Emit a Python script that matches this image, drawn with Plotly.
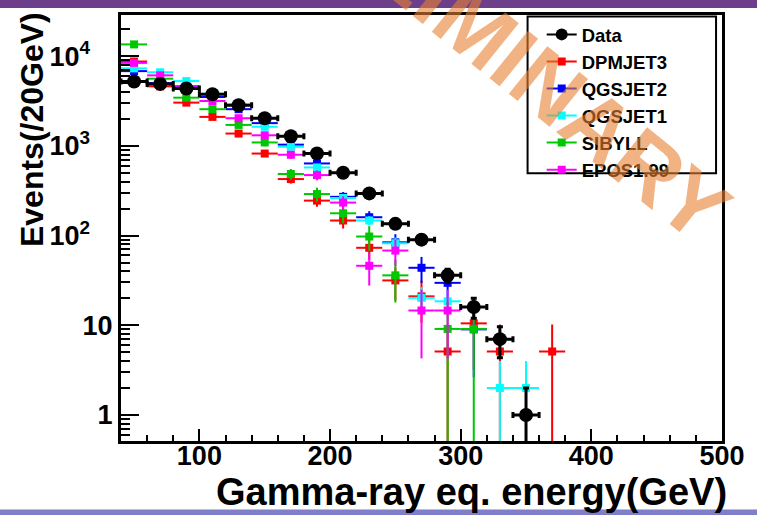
import math
import plotly.graph_objects as go

# Gamma-ray equivalent energy bins (GeV), 20 GeV wide
energy = [50, 70, 90, 110, 130, 150, 170, 190, 210, 230, 250, 270, 290, 310, 330, 350, 370]
bin_half_width = 10

# Events per 20 GeV bin
data_counts = [5200, 4900, 4350, 3750, 2830, 2030, 1280, 820, 500, 295, 135, 90, 36, 16, 7, 1, None]
dpmjet3 = [8700, 4600, 3030, 2100, 1370, 820, 426, 245, 147, 73, 31.6, 21, 5.1, 10.5, 5.1, None, 5.1]
qgsjet2 = [6800, 5000, 4600, 3500, 2560, 1790, 1030, 636, 270, 160, 84, 43.7, 29.7, 9.0, None, None, None]
qgsjet1 = [7300, 6600, 5270, 3800, 2900, 1630, 975, 574, 262, 147, 82, 20.2, 18.5, None, 2.0, 2.0, None]
sibyll = [13500, 5600, 3440, 2560, 1710, 1090, 485, 290, 177, 97.5, 36, None, 9.1, 9.1, None, None, None]
epos199 = [8400, 6100, 4500, 3160, 2030, 1310, 795, 472, 233, 46, 68, 14.6, 14.6, None, None, None, None]

# Per-event weight of each simulated sample (sets its statistical error)
mc_weights = {"DPMJET3": 5.1, "QGSJET2": 4.5, "QGSJET1": 2.0, "SIBYLL": 9.1, "EPOS1.99": 7.3}

# Y tick labels (decades)
y_tick_vals = [1, 10, 100, 1000, 10000]
y_tick_text = ["1", "10", "10<sup>2</sup>&nbsp;&nbsp;&nbsp;", "10<sup>3</sup>&nbsp;&nbsp;&nbsp;",
               "10<sup>4</sup>&nbsp;&nbsp;&nbsp;"]

# Legend order
legend_names = ["Data", "DPMJET3", "QGSJET2", "QGSJET1", "SIBYLL", "EPOS1.99"]
colors = {"Data": "#000000", "DPMJET3": "#ff0000", "QGSJET2": "#0000ff",
          "QGSJET1": "#00ffff", "SIBYLL": "#00c800", "EPOS1.99": "#ff00ff"}

FONT = "Liberation Sans, Arial, Helvetica, sans-serif"

fig = go.Figure()


def mc_errors(values, w):
    return [None if v is None else math.sqrt(w * v) for v in values]


# simulated samples, drawn beneath the data
for name, vals in [("DPMJET3", dpmjet3), ("QGSJET2", qgsjet2), ("QGSJET1", qgsjet1),
                   ("SIBYLL", sibyll), ("EPOS1.99", epos199)]:
    c = colors[name]
    fig.add_trace(go.Scatter(
        x=energy, y=vals, mode="markers", name=name, showlegend=False,
        marker=dict(symbol="square", size=8, color=c, line=dict(width=0)),
        error_x=dict(type="constant", value=bin_half_width, color=c, thickness=2, width=0),
        error_y=dict(type="data", array=mc_errors(vals, mc_weights[name]),
                     color=c, thickness=2, width=0),
    ))

# measured data with Poisson errors
fig.add_trace(go.Scatter(
    x=energy, y=data_counts, mode="markers", name="Data", showlegend=False,
    marker=dict(symbol="circle", size=14, color="black", line=dict(width=0)),
    error_x=dict(type="constant", value=bin_half_width, color="black", thickness=3, width=3),
    error_y=dict(type="data", array=[None if v is None else math.sqrt(v) for v in data_counts],
                 color="black", thickness=3, width=3),
))

# legend entries (line + marker symbols)
for name in legend_names:
    c = colors[name]
    fig.add_trace(go.Scatter(
        x=[None], y=[None], mode="lines+markers", name=name,
        line=dict(color=c, width=2),
        marker=dict(symbol="circle" if name == "Data" else "square",
                    size=12 if name == "Data" else 8, color=c),
    ))

fig.update_layout(
    width=757, height=515,
    margin=dict(l=121, r=27, t=13, b=74),
    paper_bgcolor="white", plot_bgcolor="white",
    font=dict(family=FONT, color="black"),
    showlegend=True,
    legend=dict(x=0.70, y=0.998, xanchor="left", yanchor="top",
                bgcolor="rgba(0,0,0,0)", borderwidth=0,
                font=dict(family=FONT, size=18.5, color="black", weight="bold"),
                itemwidth=30, tracegroupgap=0),
    xaxis=dict(
        range=[40, 500], showgrid=False, zeroline=False,
        showline=True, linewidth=3, linecolor="black", mirror=True,
        ticks="inside", ticklen=12, tickwidth=2, tickcolor="black",
        tick0=0, dtick=100, ticklabelstandoff=-11,
        minor=dict(ticks="inside", ticklen=6, tickwidth=2, tickcolor="black", dtick=20, showgrid=False),
        tickfont=dict(family=FONT, size=27, weight="bold"),
    ),
    yaxis=dict(
        type="log", range=[-0.29, 4.458], showgrid=False, zeroline=False,
        showline=True, linewidth=3, linecolor="black", mirror=True,
        ticks="inside", ticklen=18, tickwidth=2, tickcolor="black",
        tickmode="array", tickvals=y_tick_vals, ticktext=y_tick_text,
        minor=dict(ticks="inside", ticklen=9, tickwidth=2, tickcolor="black", dtick="D1", showgrid=False),
        tickfont=dict(family=FONT, size=27, weight="bold"),
    ),
)

# slide bands above and below the canvas
fig.add_shape(type="rect", xref="paper", yref="paper", x0=-0.25, x1=1.1, y0=1.0164, y1=1.06,
              fillcolor="#6d3f8a", line=dict(width=0), layer="above")
fig.add_shape(type="rect", xref="paper", yref="paper", x0=-0.25, x1=1.1, y0=-0.25, y1=-0.161,
              fillcolor="#7f7fc9", line=dict(width=0), layer="above")

# legend frame
fig.add_shape(type="rect", xref="paper", yref="paper", x0=0.6765, x1=0.9901, y0=0.6285, y1=0.9965,
              fillcolor="white", line=dict(color="black", width=2), layer="above")

# axis titles
fig.add_annotation(text="Gamma-ray eq. energy(GeV)", xref="paper", yref="paper",
                   x=1.012, y=-0.1199, xanchor="right", yanchor="middle", showarrow=False,
                   font=dict(family=FONT, size=38, weight="bold", color="black"))
fig.add_annotation(text="Events(/20GeV)", xref="paper", yref="paper", textangle=-90,
                   x=-0.147, y=1.012, xanchor="center", yanchor="top", showarrow=False,
                   font=dict(family=FONT, size=32, weight="bold", color="black"))

# preliminary stamp
fig.add_annotation(text="PRELIMINARY", xref="paper", yref="paper", textangle=39,
                   x=0.598, y=0.962, xanchor="center", yanchor="middle", showarrow=False,
                   font=dict(family=FONT, size=89, weight="bold", color="rgba(232,128,50,0.6)"))

fig.write_html("out.html")
